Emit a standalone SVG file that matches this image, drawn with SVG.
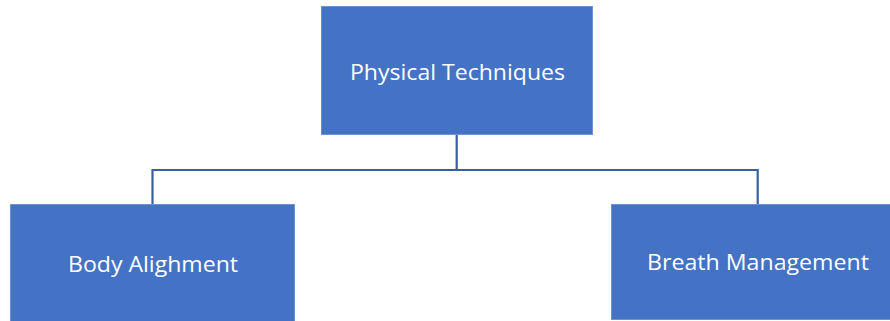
<svg xmlns="http://www.w3.org/2000/svg" width="890" height="321" viewBox="0 0 890 321">
  <style>
    .box { fill: #4472C4; stroke: #6E92D2; stroke-width: 1; }
    .label { fill: #FFFFFF; font-family: "Open Sans", "Noto Sans", "Liberation Sans", sans-serif; font-size: 21.5px; text-anchor: middle; }
    .link { fill: none; stroke: #3A5FA0; stroke-width: 2.2; }
  </style>
  <rect width="890" height="321" fill="#FFFFFF"/>
  <g id="connectors">
    <path class="link" d="M456.7 135 V170 M152.5 204 V170 H757.7 V204"/>
  </g>
  <g id="physical-techniques">
    <rect class="box" x="321.5" y="6.5" width="271" height="128"/>
    <text class="label" x="457.5" y="80" textLength="215" lengthAdjust="spacingAndGlyphs">Physical Techniques</text>
  </g>
  <g id="body-alighment">
    <rect class="box" x="10.5" y="204.5" width="284" height="120"/>
    <text class="label" x="153" y="272" textLength="170" lengthAdjust="spacingAndGlyphs">Body Alighment</text>
  </g>
  <g id="breath-management">
    <rect class="box" x="611.5" y="204.5" width="285" height="115"/>
    <text class="label" x="758" y="270" textLength="222" lengthAdjust="spacingAndGlyphs">Breath Management</text>
  </g>
</svg>
